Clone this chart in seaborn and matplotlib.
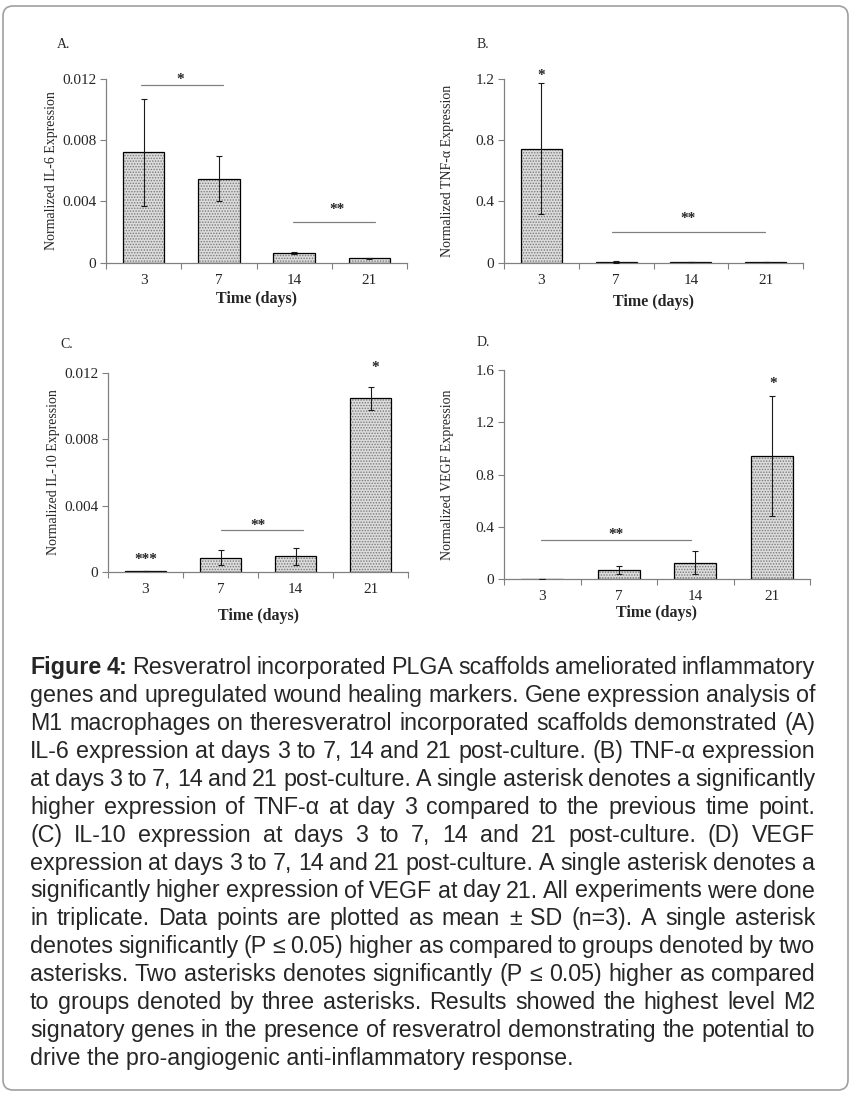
import matplotlib
matplotlib.use('Agg')
import matplotlib.pyplot as plt
import seaborn as sns
import pandas as pd
from matplotlib.patches import FancyBboxPatch
from matplotlib.transforms import IdentityTransform

# Data (mean and SD, n=3)
days = ['3', '7', '14', '21']
il6_mean = [0.0072, 0.0055, 0.00065, 0.00028]
il6_sd = [0.0035, 0.0015, 0.00005, 0.00003]
tnf_mean = [0.745, 0.006, 0.004, 0.004]
tnf_sd = [0.43, 0.008, 0.001, 0.001]
il10_mean = [0.00006, 0.00088, 0.00095, 0.01045]
il10_sd = [0.00001, 0.00045, 0.0005, 0.0007]
vegf_mean = [0.005, 0.07, 0.127, 0.945]
vegf_sd = [0.001, 0.03, 0.09, 0.46]

small_ticks = [0, 0.004, 0.008, 0.012]
small_labels = ['0', '0.004', '0.008', '0.012']
tnf_ticks = [0, 0.4, 0.8, 1.2]
tnf_labels = ['0', '0.4', '0.8', '1.2']
vegf_ticks = [0, 0.4, 0.8, 1.2, 1.6]
vegf_labels = ['0', '0.4', '0.8', '1.2', '1.6']

caption_lines = [
    "Figure 4: Resveratrol incorporated PLGA scaffolds ameliorated inflammatory",
    "genes and upregulated wound healing markers. Gene expression analysis of",
    "M1 macrophages on theresveratrol incorporated scaffolds demonstrated (A)",
    "IL-6 expression at days 3 to 7, 14 and 21 post-culture. (B) TNF-\u03b1 expression",
    "at days 3 to 7, 14 and 21 post-culture. A single asterisk denotes a significantly",
    "higher expression of TNF-\u03b1 at day 3 compared to the previous time point.",
    "(C) IL-10 expression at days 3 to 7, 14 and 21 post-culture. (D) VEGF",
    "expression at days 3 to 7, 14 and 21 post-culture. A single asterisk denotes a",
    "significantly higher expression of VEGF at day 21. All experiments were done",
    "in triplicate. Data points are plotted as mean \u00b1 SD (n=3). A single asterisk",
    "denotes significantly (P \u2264 0.05) higher as compared to groups denoted by two",
    "asterisks. Two asterisks denotes significantly (P \u2264 0.05) higher as compared",
    "to groups denoted by three asterisks. Results showed the highest level M2",
    "signatory genes in the presence of resveratrol demonstrating the potential to",
    "drive the pro-angiogenic anti-inflammatory response.",
]

sns.set_style('white')
plt.rcParams['font.family'] = ['Liberation Serif', 'DejaVu Serif']
plt.rcParams['hatch.linewidth'] = 0.7

W, H = 851, 1102
fig = plt.figure(figsize=(W / 100, H / 100), dpi=100)

AXIS_GREY = '#808080'

# panels: letter, ylabel, means, sds, ticks, labels, box (left, top, right, bottom in px)
panels = [
    ('A.', 'Normalized IL-6 Expression', il6_mean, il6_sd, small_ticks, small_labels,
     (106, 79, 407, 262.7), (57, 45)),
    ('B.', 'Normalized TNF-\u03b1 Expression', tnf_mean, tnf_sd, tnf_ticks, tnf_labels,
     (504, 79, 803, 262.7), (477, 45)),
    ('C.', 'Normalized IL-10 Expression', il10_mean, il10_sd, small_ticks, small_labels,
     (108, 372.7, 408, 572.3), (60, 345)),
    ('D.', 'Normalized VEGF Expression', vegf_mean, vegf_sd, vegf_ticks, vegf_labels,
     (504, 370, 810, 579.3), (477, 343)),
]

# significance marks: (x0, x1, y) bars and (x, y, text) stars, in data units
sig_bars = [
    [(-0.03, 1.06, 0.0116), (1.98, 3.07, 0.00266)],
    [(0.95, 2.99, 0.2)],
    [(1.0, 2.1, 0.00254)],
    [(-0.02, 1.95, 0.30)],
]
sig_stars = [
    [(0.48, 0.01155, '*'), (2.57, 0.00305, '**')],
    [(0.0, 1.18, '*'), (1.96, 0.245, '**')],
    [(0.01, 0.0004, '***'), (1.5, 0.00242, '**'), (3.06, 0.01194, '*')],
    [(0.97, 0.296, '**'), (3.02, 1.444, '*')],
]

xlabel_px = [299, 302, 616, 613]

for i, (letter, ylab, means, sds, ticks, tlabels, box, letter_pos) in enumerate(panels):
    l, t, r, b = box
    ax = fig.add_axes([l / W, 1 - b / H, (r - l) / W, (b - t) / H])
    df = pd.DataFrame({'day': days, 'value': means})

    # stippled fill, then a black outline on top
    sns.barplot(data=df, x='day', y='value', ax=ax, width=0.55, errorbar=None,
                color='#dcdcdc', edgecolor='#7a7a7a', linewidth=0, hatch='......')
    sns.barplot(data=df, x='day', y='value', ax=ax, width=0.55, errorbar=None,
                fill=False, color='black', linewidth=0.9)
    ax.errorbar(range(len(days)), means, yerr=sds, fmt='none', ecolor='#1a1a1a',
                elinewidth=0.8, capsize=2.5, capthick=0.8, zorder=5)

    ax.set_xlim(-0.5, len(days) - 0.5)
    ax.set_ylim(0, ticks[-1])
    ax.set_yticks(ticks)
    ax.set_yticklabels(tlabels, fontsize=11)
    ax.set_xticks([k - 0.5 for k in range(len(days) + 1)])
    ax.set_xticklabels([''] * (len(days) + 1))
    ax.set_xticks(range(len(days)), minor=True)
    ax.set_xticklabels(days, minor=True, fontsize=11)
    ax.tick_params(axis='x', which='major', direction='out', length=4, width=0.8,
                   color=AXIS_GREY, bottom=True)
    ax.tick_params(axis='x', which='minor', length=0, pad=8)
    ax.tick_params(axis='y', direction='out', length=4, width=0.8, color=AXIS_GREY,
                   left=True, pad=3)
    for side in ['top', 'right']:
        ax.spines[side].set_visible(False)
    for side in ['left', 'bottom']:
        ax.spines[side].set_color(AXIS_GREY)
        ax.spines[side].set_linewidth(0.9)

    ax.set_xlabel('Time (days)', fontsize=11.5, fontweight='bold')
    ax.xaxis.set_label_coords(0.5, (b - xlabel_px[i]) / (b - t))
    ax.xaxis.label.set_va('center')
    ax.set_ylabel(ylab, fontsize=10)
    ax.yaxis.set_label_coords((-56 + (2 if i % 2 == 0 else 0)) / (r - l), 0.5)
    ax.yaxis.label.set_va('center')

    for x0, x1, y in sig_bars[i]:
        ax.plot([x0, x1], [y, y], color=AXIS_GREY, linewidth=0.9, clip_on=False)
    for x, y, s in sig_stars[i]:
        ax.text(x, y, s, ha='center', va='bottom', fontsize=11, fontweight='bold',
                clip_on=False)

    fig.text(letter_pos[0] / W, 1 - letter_pos[1] / H, letter, fontsize=10,
             ha='left', va='center')

# caption, justified like the source page
renderer = fig.canvas.get_renderer()
cap_family = ['Liberation Sans', 'DejaVu Sans']
probe = fig.text(0, 0, caption_lines[-1], fontsize=10, family=cap_family)
w10 = probe.get_window_extent(renderer).width
probe.remove()
cap_size = 10 * 545 / w10

cap_left, cap_right = 30, 815
first_base, line_step = 674.3, 27.9

for n, line in enumerate(caption_lines):
    y = 1 - (first_base + n * line_step) / H
    words = line.split(' ')
    if n == len(caption_lines) - 1:
        fig.text(cap_left / W, y, line, fontsize=cap_size, family=cap_family,
                 va='baseline', ha='left')
        continue
    arts = []
    widths = []
    for k, w in enumerate(words):
        bold = (n == 0 and k < 2)
        a = fig.text(0, y, w, fontsize=cap_size, family=cap_family, va='baseline',
                     ha='left', fontweight='bold' if bold else 'normal')
        arts.append(a)
        widths.append(a.get_window_extent(renderer).width)
    gap = (cap_right - cap_left - sum(widths)) / (len(words) - 1)
    x = cap_left
    for a, wd in zip(arts, widths):
        a.set_x(x / W)
        x += wd + gap

# rounded frame round the whole figure
frame = FancyBboxPatch((3, H - 1090), 845, 1084, boxstyle='round,pad=0,rounding_size=10',
                       transform=IdentityTransform(), facecolor='none',
                       edgecolor='#a0a0a0', linewidth=1.2)
fig.patches.append(frame)

fig.savefig('out.png', dpi=100)
